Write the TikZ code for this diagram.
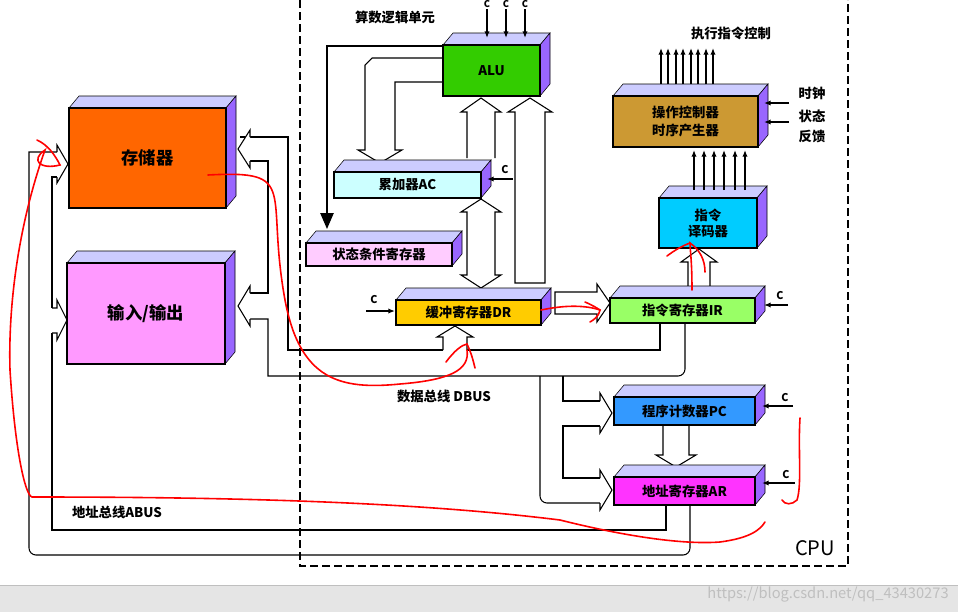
\documentclass[tikz,border=0pt]{standalone}
\usepackage{fontspec}
\setmainfont{Noto Sans CJK SC}
\usetikzlibrary{arrows.meta}
\definecolor{topc}{HTML}{CCCCFF}
\definecolor{sidec}{HTML}{9966FF}
\definecolor{memc}{HTML}{FF6600}
\definecolor{ioc}{HTML}{FF99FF}
\definecolor{aluc}{HTML}{33CC00}
\definecolor{acc}{HTML}{CCFFFF}
\definecolor{psw}{HTML}{FFCCFF}
\definecolor{drc}{HTML}{FFCC00}
\definecolor{irc}{HTML}{99FF66}
\definecolor{idc}{HTML}{00CCFF}
\definecolor{cuc}{HTML}{CC9933}
\definecolor{pcc}{HTML}{3399FF}
\definecolor{arc}{HTML}{FF33FF}
\tikzset{
 lbl/.style={font=\bfseries\fontsize{10}{12}\selectfont,align=center,inner sep=0},
 hol/.style={draw=black,fill=white,line width=0.8pt},
 ctl/.style={line width=1pt,-{Latex[length=5pt,width=4pt]}},
 bus/.style={line width=0.8pt},
 red/.style={draw=red,line width=1.2pt,line cap=round}
}
\newcommand\cbx[7]{%
 \draw[fill=topc] (#2,#3)--({#2+10},{#3-12})--({#4+10},{#3-12})--(#4,#3)--cycle;
 \draw[fill=sidec] (#4,#3)--({#4+10},{#3-12})--({#4+10},{#5-12})--(#4,#5)--cycle;
 \draw[fill=#6,line width=0.8pt] (#2,#3) rectangle (#4,#5);
 \node[lbl] (#1) at ({(#2+#4)/2},{(#3+#5)/2}) {#7};}
\begin{document}
\begin{tikzpicture}[x=0.75pt,y=-0.75pt]
\useasboundingbox (0,0) rectangle (958,612);
\fill[white] (0,0) rectangle (958,612);
\fill[black!10] (0,585) rectangle (958,612);
\draw[black!25] (0,585)--(958,585);
% CPU dashed
\draw[dashed,line width=1.8pt,dash pattern=on 6pt off 3pt] (300,0)--(300,566)--(848,566)--(848,0);
\node[font=\fontsize{15}{15}\selectfont,inner sep=0] (cpu) at (815,548) {CPU};
% buses (data)
\draw[bus] (240,137)--(288,137)--(288,350)--(443,350);
\draw[bus] (250,161)--(268,161)--(268,293)--(250,293);
\draw[bus] (250,319)--(268,319)--(268,376)--(678,376) arc[start angle=90,end angle=0,radius=7]--(685,323);
\draw[bus] (467,350)--(660,350)--(660,323);
\draw[bus] (563,376)--(563,401)--(600,401);
\draw[bus] (600,426)--(563,426)--(563,478)--(600,478);
\draw[bus] (540,376)--(540,496) arc[start angle=180,end angle=90,radius=7]--(600,503);
% hollow heads at memory/IO right
\draw[hol] (250,137)--(250,130)--(238,149)--(250,168)--(250,161);
\draw[hol] (250,293)--(250,286)--(238,306)--(250,326)--(250,319);
% PC, AR left heads
\draw[hol] (600,401)--(600,393)--(612,413)--(600,433)--(600,426);
\draw[hol] (600,478)--(600,470)--(612,490)--(600,510)--(600,503);
% DR bus head
\draw[hol] (443,350)--(443,337)--(437,337)--(455,326)--(473,337)--(467,337)--(467,350);
% address bus
\draw[bus] (666,505)--(666,530)--(52,530)--(52,333);
\draw[bus] (52,308)--(52,177)--(57,177);
\draw[bus] (690,505)--(690,548) arc[start angle=0,end angle=90,radius=7]--(36,555) arc[start angle=90,end angle=180,radius=7]--(29,152)--(57,152);
\draw[hol] (57,152)--(57,145)--(68,164)--(57,183)--(57,177);
\draw[hol] (52,308)--(57,308)--(57,300)--(67,320)--(57,340)--(57,333)--(52,333);
% boxes
\cbx{mem}{69}{108}{226}{208}{memc}{\fontsize{13}{15}\selectfont 存储器}
\cbx{io}{67}{263}{225}{364}{ioc}{\fontsize{13}{15}\selectfont 输入/输出}
% internal hollow arrows
\draw[hol] (443,58)--(372,58)--(365,65)--(365,150)--(358,150)--(380,163)--(402,150)--(395,150)--(395,82)--(443,82);
\draw[hol] (467,158)--(467,112)--(461,112)--(481,98)--(501,112)--(495,112)--(495,158);
\draw[hol] (467,212)--(461,212)--(481,199)--(501,212)--(495,212)--(495,275)--(501,275)--(481,288)--(461,275)--(467,275)--cycle;
\draw[hol] (515,283)--(515,112)--(508,112)--(530,98)--(552,112)--(545,112)--(545,283)--cycle;
\draw[hol] (555,292)--(597,292)--(597,284)--(610,303)--(597,322)--(597,314)--(555,314)--cycle;
\draw[hol] (688,286)--(688,262)--(681,262)--(699,249)--(717,262)--(710,262)--(710,286);
\draw[hol] (663,426)--(663,455)--(656,455)--(676,467)--(696,455)--(689,455)--(689,426);
\cbx{alu}{443}{45}{540}{96}{aluc}{ALU}
\cbx{ac}{334}{172}{481}{198}{acc}{累加器AC}
\cbx{psw}{306}{243}{452}{266}{psw}{状态条件寄存器}
\cbx{dr}{396}{300}{541}{325}{drc}{缓冲寄存器DR}
\cbx{ir}{610}{298}{755}{323}{irc}{指令寄存器IR}
\cbx{id}{659}{198}{757}{248}{idc}{指令\\译码器}
\cbx{cu}{613}{96}{758}{147}{cuc}{操作控制器\\[2pt]时序产生器}
\cbx{pc}{614}{397}{755}{425}{pcc}{程序计数器PC}
\cbx{ar}{614}{477}{755}{505}{arc}{地址寄存器AR}
% ALU -> PSW
\draw[line width=1.2pt,-{Triangle[length=12pt,width=10pt]}] (443,46)--(327,46)--(327,229);
% control signals
\foreach \x in {487,506,525} {\node[lbl,font=\bfseries\fontsize{7}{7}\selectfont] at (\x,4) {C}; \draw[ctl] (\x,9)--(\x,38);}
\node[lbl,font=\bfseries\fontsize{8}{8}\selectfont] (cac) at (505,170) {C};
\draw[ctl] (513,179)--(487,179);
\node[lbl,font=\bfseries\fontsize{8}{8}\selectfont] (cdr) at (374,300) {C};
\draw[ctl] (366,311)--(395,311);
\node[lbl,font=\bfseries\fontsize{8}{8}\selectfont] (cir) at (780,296) {C};
\draw[ctl] (788,305)--(764,305);
\node[lbl,font=\bfseries\fontsize{8}{8}\selectfont] (cpc) at (785,398) {C};
\draw[ctl] (793,406)--(762,406);
\node[lbl,font=\bfseries\fontsize{8}{8}\selectfont] (car) at (786,475) {C};
\draw[ctl] (795,483)--(762,483);
\foreach \x in {694,704,714,724,735,745} \draw[ctl] (\x,190)--(\x,150);
\foreach \x in {661,668,676,683,691,698,706,713} \draw[ctl] (\x,84)--(\x,48);
\draw[ctl] (789,103)--(764,103);
\draw[ctl] (789,122)--(764,122);
% labels
\node[lbl] (t1) at (395,17) {算数逻辑单元};
\node[lbl] (t2) at (731,33) {执行指令控制};
\node[lbl] (t3) at (812,93) {时钟};
\node[lbl] (t4) at (812,116) {状态};
\node[lbl] (t5) at (812,136) {反馈};
\node[lbl] (t6) at (444,396) {数据总线 DBUS};
\node[lbl] (t7) at (117,512) {地址总线ABUS};
\node[font=\fontsize{11}{11}\selectfont,text=black!25,inner sep=0] (wm) at (828,594) {https://blog.csdn.net/qq\_43430273};
% red annotations
\draw[red] (208,175) .. controls (300,170) and (265,190) .. (285,300) .. controls (300,380) and (340,390) .. (400,384) .. controls (450,380) and (470,370) .. (467,350);
\draw[red] (446,362) .. controls (455,350) and (462,345) .. (467,344) .. controls (472,355) and (473,360) .. (475,368);
\draw[red] (541,310) .. controls (565,305) and (585,305) .. (600,310) .. controls (598,318) and (593,320) .. (590,322);
\draw[red] (585,302) .. controls (592,305) and (597,308) .. (600,310);
\draw[red] (692,290) .. controls (692,260) and (690,250) .. (690,243) .. controls (700,250) and (705,260) .. (705,272);
\draw[red] (667,256) .. controls (675,250) and (682,246) .. (690,243);
\draw[red] (37,140) .. controls (48,145) and (55,155) .. (60,165) .. controls (40,170) and (30,160) .. (45,150) .. controls (20,220) and (8,300) .. (10,370) .. controls (15,450) and (25,495) .. (32,497) .. controls (200,497) and (400,500) .. (560,520) .. controls (620,535) and (680,545) .. (720,542) .. controls (750,538) and (760,530) .. (765,522);
\draw[red] (800,418) .. controls (798,450) and (802,485) .. (797,500) .. controls (792,505) and (785,505) .. (782,500);
\end{tikzpicture}
\end{document}
